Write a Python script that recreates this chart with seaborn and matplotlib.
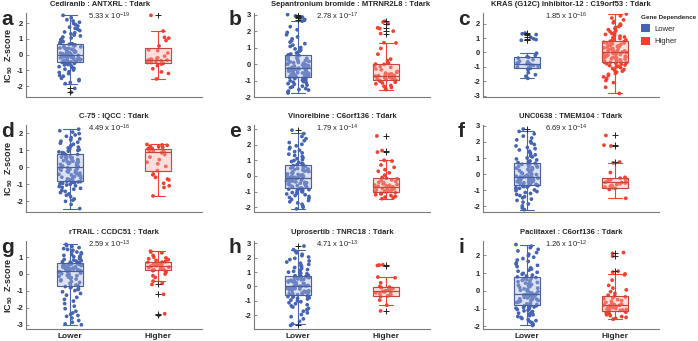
import numpy as np
import pandas as pd
import seaborn as sns
import matplotlib
matplotlib.use("Agg")
import matplotlib.pyplot as plt
from matplotlib.patches import Patch

# ---------------- data ----------------
groups = ["Lower", "Higher"]
letters = ["a", "b", "c", "d", "e", "f", "g", "h", "i"]
titles = ["Cediranib : ANTXRL : Tdark",
          "Sepantronium bromide : MTRNR2L8 : Tdark",
          "KRAS (G12C) Inhibitor-12 : C19orf53 : Tdark",
          "C-75 : IQCC : Tdark",
          "Vinorelbine : C6orf136 : Tdark",
          "UNC0638 : TMEM104 : Tdark",
          "rTRAIL : CCDC51 : Tdark",
          "Uprosertib : TNRC18 : Tdark",
          "Paclitaxel : C6orf136 : Tdark"]
p_mant = ["5.33", "2.78", "1.85", "4.49", "1.79", "6.69", "2.59", "4.71", "1.26"]
p_exp = ["-19", "-17", "-16", "-16", "-14", "-14", "-13", "-13", "-12"]
ylims = [(-2.7, 2.65), (-2.0, 3.1), (-3.1, 2.75),
         (-2.65, 2.5), (-2.3, 3.25), (-2.35, 3.05),
         (-3.25, 1.95), (-2.95, 3.15), (-2.15, 2.8)]

# box statistics: (whisker low, q1, median, q3, whisker high)
box_lower = [(-1.85, -0.44, 0.0, 0.70, 2.50),
             (-1.76, -0.76, -0.24, 0.53, 2.60),
             (-1.80, -1.05, -0.78, -0.33, -0.05),
             (-2.45, -0.82, 0.0, 0.76, 2.25),
             (-2.10, -0.75, -0.10, 0.68, 2.75),
             (-2.20, -0.65, -0.15, 0.68, 2.65),
             (-3.00, -0.72, 0.20, 0.65, 1.75),
             (-2.60, -0.62, 0.05, 0.75, 2.55),
             (-1.95, -0.82, -0.20, 0.80, 2.60)]
box_higher = [(-1.55, -0.52, -0.35, 0.45, 1.50),
              (-1.55, -0.95, -0.72, 0.0, 1.30),
              (-2.85, -0.65, 0.0, 0.80, 2.68),
              (-1.70, -0.20, 0.88, 1.10, 1.35),
              (-1.45, -1.05, -0.70, -0.15, 1.00),
              (-1.50, -0.83, -0.50, -0.25, 0.70),
              (-0.42, 0.22, 0.45, 0.70, 1.35),
              (-1.30, -0.65, -0.35, -0.05, 0.65),
              (-1.60, -1.13, -0.82, -0.30, 0.95)]
out_lower = [[-2.15, -2.4], [2.7, 2.78, 2.85, 2.92, 3.0], [0.85, 0.9, 0.95, 1.05, 1.25, 1.3, 1.35],
             [], [2.92], [2.8], [], [2.8, -2.7], []]
out_higher = [[2.5], [1.85, 2.0, 2.2, 2.45, 2.6], [], [], [1.52, 1.62, 2.55],
              [0.75, 1.75, 1.8, 2.4], [-0.62, -1.2, -2.35, -2.45], [1.45, 1.5, -1.7], [1.1, 1.95, 2.15]]

vals_lower = [
    [-2.4, -2.15, -1.85, -1.78, -1.66, -1.59, -1.51, -1.38, -1.33, -1.21, -1.14, -1.09, -0.98, -0.93, -0.88,
     -0.81, -0.77, -0.72, -0.66, -0.63, -0.59, -0.55, -0.51, -0.49, -0.46,
     -0.43, -0.41, -0.38, -0.37, -0.34, -0.31, -0.3, -0.27, -0.25, -0.24, -0.21, -0.19, -0.18, -0.15, -0.14,
     -0.12, -0.1, -0.09, -0.07, -0.06, -0.05, -0.04, -0.03, -0.02, -0.01,
     0.01, 0.04, 0.06, 0.09, 0.11, 0.14, 0.15, 0.18, 0.21, 0.23, 0.26, 0.29, 0.31, 0.34, 0.37, 0.4, 0.42,
     0.45, 0.49, 0.52, 0.55, 0.59, 0.62, 0.66, 0.69,
     0.73, 0.78, 0.83, 0.87, 0.94, 0.99, 1.06, 1.12, 1.19, 1.24, 1.32, 1.39, 1.44, 1.53, 1.61, 1.67, 1.75,
     1.82, 1.91, 1.98, 2.06, 2.14, 2.22, 2.35, 2.5],
    [-1.76, -1.71, -1.64, -1.58, -1.55, -1.49, -1.43, -1.38, -1.34, -1.28, -1.22, -1.19, -1.14, -1.1, -1.06,
     -1.02, -0.99, -0.95, -0.92, -0.88, -0.86, -0.83, -0.8, -0.78, -0.77,
     -0.75, -0.73, -0.7, -0.68, -0.66, -0.63, -0.61, -0.59, -0.56, -0.54, -0.52, -0.5, -0.47, -0.45, -0.43,
     -0.41, -0.39, -0.37, -0.35, -0.33, -0.31, -0.3, -0.28, -0.26, -0.25,
     -0.23, -0.2, -0.17, -0.14, -0.12, -0.09, -0.06, -0.03, -0.01, 0.02, 0.05, 0.08, 0.1, 0.13, 0.16, 0.19,
     0.22, 0.25, 0.28, 0.31, 0.35, 0.39, 0.42, 0.46, 0.51,
     0.56, 0.61, 0.67, 0.72, 0.79, 0.86, 0.92, 1.0, 1.07, 1.15, 1.24, 1.33, 1.42, 1.53, 1.65, 1.78, 1.92,
     2.08, 2.27, 2.6, 2.7, 2.78, 2.85, 2.92, 3.0],
    [1.35, 1.3, 1.25, 1.05, 0.95, 0.9, 0.85, -0.05, -0.2, -0.3, -0.35, -0.4, -0.5, -0.6, -0.65, -0.7, -0.75,
     -0.78, -0.8, -0.85, -0.9, -0.95, -1.0, -1.02, -1.05, -1.1, -1.2, -1.4, -1.55, -1.65, -1.8],
    [-2.45, -2.2, -2.02, -1.95, -1.88, -1.74, -1.66, -1.58, -1.5, -1.43, -1.37, -1.3, -1.25, -1.19, -1.14,
     -1.1, -1.05, -1.01, -0.98, -0.95, -0.92, -0.89, -0.87, -0.85, -0.83,
     -0.8, -0.76, -0.73, -0.69, -0.66, -0.62, -0.59, -0.55, -0.52, -0.48, -0.45, -0.42, -0.38, -0.35, -0.31,
     -0.28, -0.25, -0.21, -0.18, -0.15, -0.12, -0.09, -0.06, -0.04, -0.01,
     0.02, 0.05, 0.08, 0.11, 0.14, 0.17, 0.21, 0.24, 0.27, 0.3, 0.33, 0.36, 0.39, 0.42, 0.45, 0.48, 0.51,
     0.54, 0.57, 0.6, 0.63, 0.66, 0.69, 0.72, 0.75,
     0.79, 0.83, 0.87, 0.91, 0.95, 1.0, 1.04, 1.09, 1.14, 1.19, 1.24, 1.3, 1.36, 1.42, 1.48, 1.54, 1.61,
     1.68, 1.75, 1.83, 1.91, 1.99, 2.08, 2.16, 2.25],
    [-2.1, -2.0, -1.9, -1.81, -1.72, -1.65, -1.57, -1.5, -1.43, -1.37, -1.31, -1.25, -1.2, -1.15, -1.1,
     -1.06, -1.02, -0.98, -0.94, -0.9, -0.87, -0.84, -0.81, -0.79, -0.77,
     -0.73, -0.7, -0.67, -0.64, -0.61, -0.58, -0.55, -0.52, -0.49, -0.46, -0.44, -0.41, -0.38, -0.36, -0.33,
     -0.31, -0.28, -0.26, -0.23, -0.21, -0.18, -0.16, -0.14, -0.12, -0.11,
     -0.08, -0.05, -0.02, 0.01, 0.04, 0.07, 0.1, 0.13, 0.16, 0.19, 0.22, 0.25, 0.28, 0.31, 0.34, 0.37, 0.41,
     0.44, 0.47, 0.5, 0.53, 0.56, 0.6, 0.63, 0.66,
     0.71, 0.76, 0.81, 0.86, 0.92, 0.98, 1.04, 1.1, 1.17, 1.24, 1.31, 1.39, 1.47, 1.55, 1.64, 1.73, 1.82,
     1.92, 2.02, 2.13, 2.25, 2.38, 2.52, 2.7, 2.92],
    [-2.2, -2.1, -1.97, -1.85, -1.74, -1.63, -1.55, -1.47, -1.4, -1.33, -1.26, -1.2, -1.14, -1.08, -1.03,
     -0.98, -0.93, -0.88, -0.84, -0.8, -0.77, -0.74, -0.71, -0.69, -0.67,
     -0.63, -0.61, -0.59, -0.56, -0.54, -0.52, -0.5, -0.47, -0.45, -0.43, -0.41, -0.39, -0.37, -0.35, -0.33,
     -0.31, -0.29, -0.27, -0.25, -0.23, -0.21, -0.2, -0.18, -0.17, -0.16,
     -0.13, -0.1, -0.06, -0.03, 0.0, 0.03, 0.07, 0.1, 0.13, 0.17, 0.2, 0.23, 0.27, 0.3, 0.33, 0.37, 0.4,
     0.44, 0.47, 0.5, 0.54, 0.57, 0.61, 0.64, 0.67,
     0.72, 0.77, 0.82, 0.88, 0.94, 1.0, 1.07, 1.13, 1.2, 1.27, 1.34, 1.42, 1.5, 1.58, 1.66, 1.75, 1.84,
     1.93, 2.03, 2.13, 2.24, 2.36, 2.5, 2.65, 2.8],
    [-3.0, -2.95, -2.85, -2.75, -2.6, -2.5, -2.45, -2.38, -2.3, -2.2, -2.05, -1.9, -1.75, -1.6, -1.5,
     -1.38, -1.25, -1.15, -1.05, -0.98, -0.92, -0.86, -0.81, -0.77, -0.74,
     -0.7, -0.65, -0.6, -0.55, -0.5, -0.45, -0.4, -0.35, -0.3, -0.26, -0.22, -0.18, -0.14, -0.1, -0.07,
     -0.04, -0.01, 0.02, 0.05, 0.08, 0.11, 0.13, 0.15, 0.17, 0.19,
     0.21, 0.23, 0.25, 0.27, 0.29, 0.31, 0.33, 0.35, 0.37, 0.39, 0.41, 0.43, 0.45, 0.47, 0.49, 0.5, 0.52,
     0.54, 0.55, 0.57, 0.58, 0.6, 0.61, 0.63, 0.64,
     0.67, 0.7, 0.73, 0.76, 0.79, 0.82, 0.86, 0.9, 0.94, 0.98, 1.02, 1.06, 1.1, 1.15, 1.2, 1.25, 1.3,
     1.35, 1.4, 1.45, 1.5, 1.56, 1.62, 1.68, 1.75],
    [-2.7, -2.6, -2.42, -2.25, -2.1, -1.95, -1.83, -1.72, -1.62, -1.52, -1.43, -1.35, -1.27, -1.2, -1.13,
     -1.06, -1.0, -0.94, -0.88, -0.83, -0.78, -0.74, -0.7, -0.67, -0.64,
     -0.6, -0.57, -0.54, -0.51, -0.48, -0.45, -0.42, -0.39, -0.36, -0.33, -0.3, -0.27, -0.24, -0.21, -0.18,
     -0.15, -0.12, -0.09, -0.06, -0.03, -0.01, 0.01, 0.02, 0.03, 0.04,
     0.07, 0.1, 0.13, 0.16, 0.19, 0.22, 0.25, 0.28, 0.31, 0.34, 0.37, 0.4, 0.43, 0.46, 0.49, 0.52, 0.55,
     0.58, 0.61, 0.63, 0.66, 0.68, 0.7, 0.72, 0.74,
     0.78, 0.83, 0.88, 0.93, 0.99, 1.05, 1.11, 1.17, 1.24, 1.31, 1.38, 1.45, 1.53, 1.61, 1.69, 1.77, 1.86,
     1.95, 2.04, 2.13, 2.23, 2.33, 2.44, 2.55, 2.8],
    [-1.95, -1.88, -1.8, -1.74, -1.68, -1.62, -1.56, -1.5, -1.45, -1.4, -1.35, -1.3, -1.26, -1.21, -1.17,
     -1.13, -1.09, -1.05, -1.01, -0.98, -0.94, -0.91, -0.88, -0.86, -0.84,
     -0.8, -0.77, -0.74, -0.72, -0.69, -0.66, -0.63, -0.6, -0.58, -0.55, -0.52, -0.5, -0.47, -0.45, -0.42,
     -0.4, -0.37, -0.35, -0.32, -0.3, -0.28, -0.26, -0.24, -0.22, -0.21,
     -0.17, -0.13, -0.09, -0.05, -0.01, 0.03, 0.07, 0.11, 0.15, 0.19, 0.23, 0.27, 0.31, 0.35, 0.39, 0.43,
     0.47, 0.51, 0.55, 0.59, 0.63, 0.67, 0.71, 0.74, 0.78,
     0.83, 0.88, 0.93, 0.98, 1.04, 1.1, 1.16, 1.22, 1.29, 1.36, 1.43, 1.5, 1.57, 1.65, 1.73, 1.81, 1.89,
     1.97, 2.06, 2.15, 2.24, 2.33, 2.42, 2.51, 2.6],
]
vals_higher = [
    [2.5, 1.5, 1.1, 1.05, 0.9, 0.55, 0.3, 0.25, 0.1, -0.1, -0.2, -0.25, -0.3, -0.3, -0.35, -0.35, -0.4,
     -0.4, -0.45, -0.5, -0.5, -0.55, -0.6, -0.7, -0.9, -1.1, -1.2, -1.55],
    [2.6, 2.55, 2.45, 2.2, 2.15, 2.0, 1.85, 1.3, 1.28, 0.95, 0.6, 0.3, 0.2, 0.05, 0.0, -0.02, -0.1, -0.15,
     -0.2, -0.3, -0.35, -0.45, -0.5, -0.55, -0.6, -0.62, -0.65, -0.68, -0.7, -0.72, -0.73, -0.75, -0.78,
     -0.8, -0.82, -0.85, -0.88, -0.9, -0.92, -0.95, -0.97, -1.0, -1.05, -1.1, -1.15, -1.2, -1.3, -1.35,
     -1.42, -1.5, -1.55],
    [-2.85, -2.42, -2.1, -1.95, -1.82, -1.7, -1.6, -1.52, -1.45, -1.37, -1.3, -1.24, -1.19, -1.12, -1.06,
     -1.01, -0.96, -0.92, -0.87, -0.83, -0.79, -0.75, -0.72, -0.69, -0.67,
     -0.63, -0.6, -0.57, -0.55, -0.52, -0.49, -0.46, -0.43, -0.41, -0.38, -0.35, -0.33, -0.3, -0.27, -0.25,
     -0.22, -0.19, -0.17, -0.14, -0.12, -0.09, -0.07, -0.05, -0.03, -0.01,
     0.02, 0.05, 0.08, 0.11, 0.14, 0.17, 0.2, 0.23, 0.26, 0.29, 0.32, 0.35, 0.38, 0.41, 0.44, 0.47, 0.5,
     0.53, 0.56, 0.6, 0.63, 0.67, 0.71, 0.74, 0.78,
     0.83, 0.87, 0.92, 0.97, 1.03, 1.08, 1.14, 1.2, 1.26, 1.32, 1.39, 1.45, 1.52, 1.59, 1.66, 1.74, 1.82,
     1.9, 1.98, 2.07, 2.16, 2.27, 2.4, 2.55, 2.68],
    [1.35, 1.32, 1.3, 1.25, 1.22, 1.18, 1.15, 1.12, 1.1, 1.05, 1.0, 0.95, 0.92, 0.9, 0.88, 0.85, 0.75, 0.6,
     0.45, 0.3, 0.2, 0.05, -0.2, -0.4, -0.45, -0.6, -0.7, -0.75, -0.95, -1.1, -1.2, -1.7],
    [2.55, 1.62, 1.52, 1.0, 0.95, 0.7, 0.55, 0.4, 0.3, 0.2, 0.05, -0.1, -0.15, -0.2, -0.25, -0.3, -0.35,
     -0.4, -0.45, -0.5, -0.55, -0.58, -0.6, -0.62, -0.65, -0.68, -0.7, -0.72, -0.75, -0.78, -0.8, -0.82,
     -0.85, -0.88, -0.9, -0.93, -0.95, -0.98, -1.0, -1.02, -1.05, -1.1, -1.15, -1.2, -1.25, -1.3, -1.35,
     -1.4, -1.45],
    [2.4, 1.8, 1.75, 0.75, 0.7, 0.1, -0.2, -0.25, -0.3, -0.35, -0.4, -0.45, -0.5, -0.52, -0.55, -0.6,
     -0.65, -0.7, -0.75, -0.8, -0.83, -0.88, -0.95, -1.5],
    [1.35, 1.3, 1.25, 1.1, 1.0, 0.95, 0.9, 0.85, 0.8, 0.75, 0.72, 0.7, 0.68, 0.65, 0.62, 0.6, 0.57, 0.55,
     0.52, 0.5, 0.47, 0.45, 0.42, 0.4, 0.37, 0.35, 0.3, 0.27, 0.25, 0.22, 0.2, 0.15, 0.1, 0.0, -0.1, -0.2,
     -0.42, -0.55, -0.62, -1.2, -2.35, -2.45],
    [1.5, 1.45, 1.48, 0.65, 0.6, 0.25, 0.0, -0.05, -0.1, -0.15, -0.2, -0.25, -0.3, -0.35, -0.38, -0.42,
     -0.45, -0.5, -0.55, -0.6, -0.65, -0.7, -0.95, -1.3, -1.7],
    [2.15, 2.1, 1.95, 1.1, 1.05, 0.95, 0.9, 0.6, 0.3, 0.15, 0.05, -0.05, -0.15, -0.25, -0.3, -0.35, -0.4,
     -0.45, -0.5, -0.55, -0.6, -0.65, -0.7, -0.75, -0.78, -0.8, -0.82, -0.85, -0.88, -0.9, -0.93, -0.95,
     -0.98, -1.0, -1.03, -1.05, -1.08, -1.1, -1.13, -1.17, -1.2, -1.25, -1.3, -1.35, -1.4, -1.45, -1.5,
     -1.55, -1.6],
]

# ---------------- style ----------------
sns.set_style("ticks")
plt.rcParams["font.family"] = ["Liberation Sans", "DejaVu Sans"]
plt.rcParams["mathtext.fontset"] = "custom"
plt.rcParams["mathtext.rm"] = "Liberation Sans"
plt.rcParams["mathtext.it"] = "Liberation Sans:italic"
plt.rcParams["mathtext.bf"] = "Liberation Sans:bold"
plt.rcParams["axes.unicode_minus"] = False

blue = "#4664B4"
red = "#F2402E"
blue_fill = "#A9B7DE"
red_fill = "#F8B0A8"
blue_edge = "#4A5F9E"
red_edge = "#C8463C"
spine_col = "#7A7A7A"

fig = plt.figure(figsize=(6.98, 3.41), dpi=100)
W, H = 698.0, 341.0
col_left = [26, 254, 483]
ax_w = 176
rows = [(13, 97), (125, 212), (241, 329)]
title_x = [0.42, 0.55, 0.5, 0.5, 0.5, 0.5, 0.5, 0.5, 0.5]

np.random.seed(3)

for k in range(9):
    r, c = divmod(k, 3)
    top, bot = rows[r]
    ax = fig.add_axes([col_left[c] / W, (H - bot) / H, ax_w / W, (bot - top) / H])

    df = pd.DataFrame({
        "group": ["Lower"] * len(vals_lower[k]) + ["Higher"] * len(vals_higher[k]),
        "z": vals_lower[k] + vals_higher[k],
    })
    sns.stripplot(data=df, x="group", y="z", hue="group", order=groups,
                  palette={"Lower": blue, "Higher": red}, jitter=0.13, size=2.7,
                  linewidth=0, ax=ax, legend=False, zorder=2)

    for pos, st, fl, fc, ec, wc in [
        (0, box_lower[k], out_lower[k], blue_fill, blue_edge, blue),
        (1, box_higher[k], out_higher[k], red_fill, red_edge, red),
    ]:
        lo, q1, med, q3, hi = st
        ax.bxp([dict(whislo=lo, q1=q1, med=med, q3=q3, whishi=hi, fliers=fl)],
               positions=[pos], widths=0.3, patch_artist=True, showfliers=True,
               boxprops=dict(facecolor=fc, alpha=0.4, edgecolor=ec, linewidth=0.8),
               medianprops=dict(color=ec, linewidth=0.8),
               whiskerprops=dict(color=wc, linewidth=0.8),
               capprops=dict(color=wc, linewidth=0.8),
               flierprops=dict(marker="+", markeredgecolor="#222222", markersize=4,
                               markeredgewidth=0.7, linestyle="none"),
               zorder=3, manage_ticks=False)
        # crisp box outline on top of the translucent fill
        ax.bxp([dict(whislo=lo, q1=q1, med=med, q3=q3, whishi=hi, fliers=[])],
               positions=[pos], widths=0.3, patch_artist=True, showfliers=False,
               showcaps=False,
               boxprops=dict(facecolor="none", edgecolor=ec, linewidth=0.8),
               medianprops=dict(color=ec, linewidth=0.8),
               whiskerprops=dict(linewidth=0),
               zorder=4, manage_ticks=False)

    ax.set_xlim(-0.5, 1.5)
    ax.set_ylim(*ylims[k])
    lo_t = int(np.ceil(ylims[k][0]))
    hi_t = int(np.floor(ylims[k][1]))
    ax.set_yticks(range(lo_t, hi_t + 1))
    ax.set_yticklabels([str(v) for v in range(lo_t, hi_t + 1)], fontsize=5.5, fontweight="bold")
    ax.tick_params(axis="y", direction="in", length=2, width=0.6, color=spine_col, pad=2)
    ax.set_xticks([0, 1])
    if r == 2:
        ax.set_xticklabels(groups, fontsize=6, fontweight="bold")
        ax.tick_params(axis="x", direction="in", length=0, pad=3)
    else:
        ax.set_xticklabels(["", ""])
        ax.tick_params(axis="x", length=0)
    ax.set_xlabel("")
    if c == 0:
        ax.set_ylabel("IC$_{\\mathbf{50}}$  Z-score", fontsize=6.5, fontweight="bold")
        ax.yaxis.set_label_coords(-0.06, 0.5)
    else:
        ax.set_ylabel("")
    for s in ["top", "right"]:
        ax.spines[s].set_visible(False)
    for s in ["left", "bottom"]:
        ax.spines[s].set_color(spine_col)
        ax.spines[s].set_linewidth(0.8)

    ax.set_title(titles[k], fontsize=5.5, fontweight="bold", x=title_x[k], pad=5)
    ax.text(0.35, 1.03, p_mant[k] + " x 10$^{" + p_exp[k] + "}$", transform=ax.transAxes,
            ha="left", va="top", fontsize=5.5)

    fig.text((col_left[c] - 25) / W, 1 - (top + 12) / H, letters[k], fontsize=15,
             fontweight="bold", ha="left", va="baseline")

handles = [Patch(facecolor=blue, edgecolor="none", label="Lower"),
           Patch(facecolor=red, edgecolor="none", label="Higher")]
leg = fig.legend(handles=handles, title="Gene Dependence", loc="upper left",
                 bbox_to_anchor=(636 / W, 1 - 10 / H), frameon=False, fontsize=5.5,
                 title_fontproperties={"weight": "bold", "size": 4.6},
                 handlelength=1.1, handleheight=1.3, labelspacing=0.5, handletextpad=0.6,
                 borderpad=0.2)
leg._legend_box.align = "left"

fig.savefig("out.png", dpi=100)
